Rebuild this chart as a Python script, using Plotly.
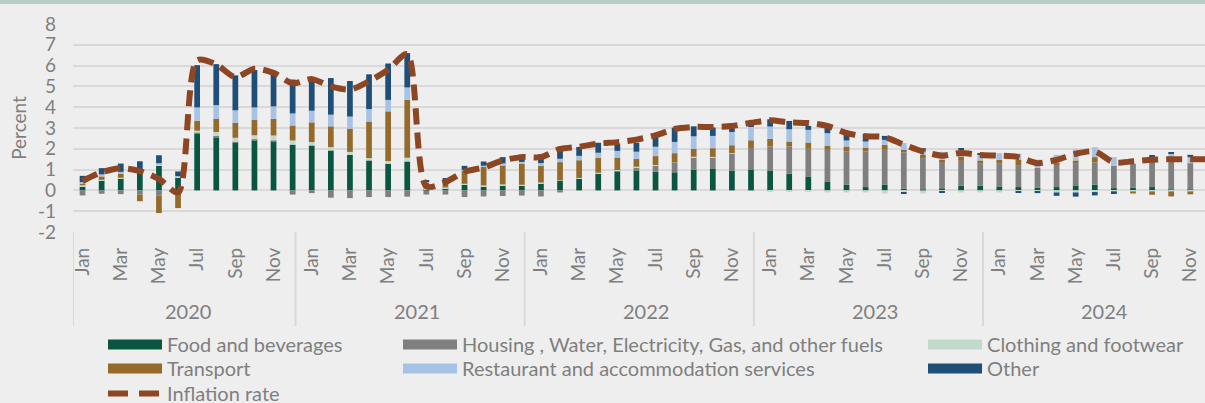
import plotly.graph_objects as go

months = ["Jan", "Feb", "Mar", "Apr", "May", "Jun", "Jul", "Aug", "Sep", "Oct", "Nov", "Dec"]
years = ["2020", "2021", "2022", "2023", "2024"]
y_ticks = [-2, -1, 0, 1, 2, 3, 4, 5, 6, 7, 8]

food = [0.20, 0.48, 0.58, 0.87, 1.20, 0.64, 2.72, 2.55, 2.28, 2.40, 2.36, 2.20,
        2.16, 1.92, 1.71, 1.44, 1.28, 1.39, 0.05, 0.11, 0.27, 0.19, 0.24, 0.22,
        0.35, 0.46, 0.58, 0.80, 0.91, 0.96, 0.90, 0.87, 1.00, 1.03, 0.95, 0.98,
        0.96, 0.80, 0.67, 0.43, 0.27, 0.16, 0.27, 0.08, 0.03, 0.10, 0.22, 0.22,
        0.19, 0.16, 0.13, 0.16, 0.24, 0.27, 0.11, 0.14, 0.16, 0.03, 0.03, None]
housing = [-0.24, -0.16, -0.18, -0.20, -0.24, -0.05, 0.05, 0.08, 0.05, 0.06, 0.04, -0.20,
           -0.13, -0.35, -0.37, -0.32, -0.32, -0.30, -0.20, -0.20, -0.32, -0.29, -0.27, -0.25,
           -0.29, -0.10, 0.00, 0.03, 0.05, 0.16, 0.30, 0.45, 0.60, 0.56, 0.82, 1.06,
           1.15, 1.31, 1.33, 1.52, 1.60, 1.71, 1.68, 1.75, 1.52, 1.30, 1.20, 1.09,
           1.12, 1.03, 0.95, 1.10, 1.07, 1.07, 1.07, 1.14, 1.39, 1.57, 1.28, None]
clothing = [0.05, 0.03, 0.03, 0.03, 0.03, 0.02, 0.10, 0.18, 0.20, 0.19, 0.24, 0.20,
            0.16, 0.16, 0.14, 0.11, 0.13, 0.18, 0.03, 0.03, 0.05, 0.05, 0.05, 0.05,
            0.03, 0.02, 0.02, 0.02, 0.02, 0.02, 0.02, 0.02, 0.02, 0.02, 0.02, 0.00,
            -0.08, -0.08, -0.08, -0.10, -0.10, -0.10, -0.15, -0.08, -0.15, -0.05, -0.10, -0.10,
            -0.10, -0.05, -0.05, -0.10, -0.10, -0.08, -0.05, -0.05, -0.05, -0.05, -0.05, None]
transport = [0.10, 0.16, 0.20, -0.32, -0.85, -0.80, 0.48, 0.64, 0.72, 0.74, 0.80, 0.72,
             0.95, 1.00, 1.12, 1.76, 2.39, 2.79, 0.30, 0.32, 0.62, 0.90, 0.93, 1.00,
             0.80, 0.88, 0.85, 0.72, 0.60, 0.38, 0.43, 0.45, 0.37, 0.42, 0.38, 0.37,
             0.37, 0.24, 0.30, 0.19, 0.24, 0.19, 0.24, 0.13, 0.16, 0.08, 0.21, 0.13,
             0.16, 0.29, 0.00, 0.08, 0.13, 0.26, -0.06, -0.10, -0.16, -0.24, -0.14, None]
restaurant = [0.05, 0.10, 0.08, 0.05, 0.08, 0.03, 0.64, 0.65, 0.60, 0.60, 0.60, 0.58,
              0.56, 0.56, 0.58, 0.60, 0.55, 0.59, 0.05, 0.08, 0.05, 0.05, 0.08, 0.10,
              0.13, 0.16, 0.21, 0.24, 0.32, 0.34, 0.45, 0.54, 0.61, 0.59, 0.64, 0.64,
              0.59, 0.59, 0.61, 0.61, 0.29, 0.29, 0.24, 0.32, 0.16, 0.37, 0.35, 0.27,
              0.32, 0.29, 0.40, 0.37, 0.54, 0.48, 0.42, 0.00, 0.10, 0.16, 0.29, None]
other = [0.30, 0.30, 0.40, 0.45, 0.38, 0.22, 2.03, 1.97, 1.68, 1.80, 1.63, 1.63,
         1.49, 1.76, 1.71, 1.67, 1.75, 1.65, 0.05, 0.05, 0.19, 0.20, 0.30, 0.35,
         0.43, 0.45, 0.43, 0.48, 0.35, 0.43, 0.60, 0.69, 0.48, 0.40, 0.26, 0.27,
         0.35, 0.40, 0.19, 0.32, 0.35, 0.37, 0.19, -0.06, 0.16, -0.06, 0.03, 0.08,
         0.00, -0.06, -0.08, -0.16, -0.20, -0.16, -0.06, 0.00, 0.05, 0.06, 0.11, None]
inflation = [0.45, 0.87, 1.07, 0.93, 0.55, -0.10, 6.25, 6.05, 5.45, 5.85, 5.65, 5.15,
             5.35, 5.00, 4.85, 5.25, 5.80, 6.55, 0.20, 0.40, 0.90, 1.10, 1.44, 1.60,
             1.60, 1.99, 2.10, 2.25, 2.32, 2.44, 2.65, 2.95, 3.05, 3.05, 3.10, 3.25,
             3.37, 3.27, 3.24, 3.10, 2.76, 2.60, 2.56, 2.20, 1.87, 1.67, 1.80, 1.70,
             1.67, 1.60, 1.31, 1.47, 1.76, 1.87, 1.35, 1.40, 1.47, 1.50, 1.50, 1.50]

idx = list(range(len(inflation)))
TEXT = "#7F7F7F"
FONT = "Lato"
GRID = "#D9D9D9"
BG = "#EEEEEE"
LINE_COL = "#8E4522"

# name, values, colour, legend slot (x paper, y paper)
series = [
    ("Food and beverages", food, "#0B5641", (0.0265, -0.447)),
    ("Housing , Water, Electricity, Gas, and other fuels", housing, "#7F7F7F", (0.2871, -0.447)),
    ("Clothing and footwear", clothing, "#C2DACC", (0.7509, -0.447)),
    ("Transport", transport, "#946B2B", (0.0265, -0.562)),
    ("Restaurant and accommodation services", restaurant, "#A6C3E6", (0.2871, -0.562)),
    ("Other", other, "#1F4E79", (0.7509, -0.562)),
]
inflation_slot = (0.0265, -0.683)

fig = go.Figure()
for name, vals, col, slot in series:
    fig.add_trace(go.Bar(x=idx, y=vals, name=name, marker=dict(color=col, line=dict(width=0)),
                         showlegend=False))
fig.add_trace(go.Scatter(x=idx, y=inflation, mode="lines", name="Inflation rate",
                         line=dict(color=LINE_COL, width=6, dash="16px,8px", shape="spline", smoothing=0.8),
                         showlegend=False))

legend_common = dict(orientation="v", bgcolor="rgba(0,0,0,0)", borderwidth=0,
                     font=dict(family=FONT, size=20, color=TEXT), itemwidth=54,
                     xanchor="left", yanchor="top")
legends = {}
for i, (name, vals, col, slot) in enumerate(series):
    key = "legend" if i == 0 else "legend%d" % (i + 1)
    fig.add_trace(go.Scatter(x=[None], y=[None], mode="lines", name=name, legend=key,
                             line=dict(color=col, width=13)))
    legends[key] = dict(x=slot[0], y=slot[1], **legend_common)
fig.add_trace(go.Scatter(x=[None], y=[None], mode="lines", name="Inflation rate", legend="legend7",
                         line=dict(color=LINE_COL, width=6, dash="20px,11px")))
legends["legend7"] = dict(x=inflation_slot[0], y=inflation_slot[1], **legend_common)

# category box under the x axis
for k in range(len(years)):
    xv = -0.5 if k == 0 else 12 * k - 0.85
    fig.add_shape(type="line", xref="x", yref="paper", x0=xv, x1=xv, y0=0, y1=-0.452,
                  line=dict(color=GRID, width=2))
for k, yr in enumerate(years):
    fig.add_annotation(x=12 * k + 5.5, xref="x", y=-0.38, yref="paper", text=yr, showarrow=False,
                       font=dict(family=FONT, size=20, color=TEXT), yanchor="middle")

# top border band
fig.add_shape(type="rect", xref="paper", yref="paper", x0=-0.08, x1=1.01, y0=1.096, y1=1.13,
              line=dict(width=0), fillcolor="#B6CEC6")

tickvals = [i for i in range(0, 59, 2)]
ticktext = [months[i % 12] for i in tickvals]

fig.update_layout(
    width=1205, height=403,
    margin=dict(l=73, r=0, t=24, b=171, autoexpand=False),
    paper_bgcolor=BG, plot_bgcolor=BG,
    font=dict(family=FONT, size=19, color=TEXT),
    barmode="relative", bargap=0.7,
    xaxis=dict(range=[-0.5, 58.77], tickmode="array", tickvals=tickvals, ticktext=ticktext,
               tickangle=-90, showgrid=False, zeroline=False, showline=False, ticks="",
               ticklabelstandoff=11, tickfont=dict(family=FONT, size=19, color=TEXT)),
    yaxis=dict(range=[-2, 8], tickmode="array", tickvals=y_ticks, ticktext=[str(v) for v in y_ticks],
               showgrid=True, gridcolor=GRID, gridwidth=2,
               zeroline=False, showline=False, ticks="", ticklabelstandoff=16,
               tickfont=dict(family=FONT, size=19, color=TEXT),
               title=dict(text="Percent", font=dict(family=FONT, size=19, color=TEXT), standoff=6)),
    **legends,
)

fig.write_html("out.html", config={"displayModeBar": False},
               post_script="document.body.style.margin='0';document.body.style.overflow='hidden';")
